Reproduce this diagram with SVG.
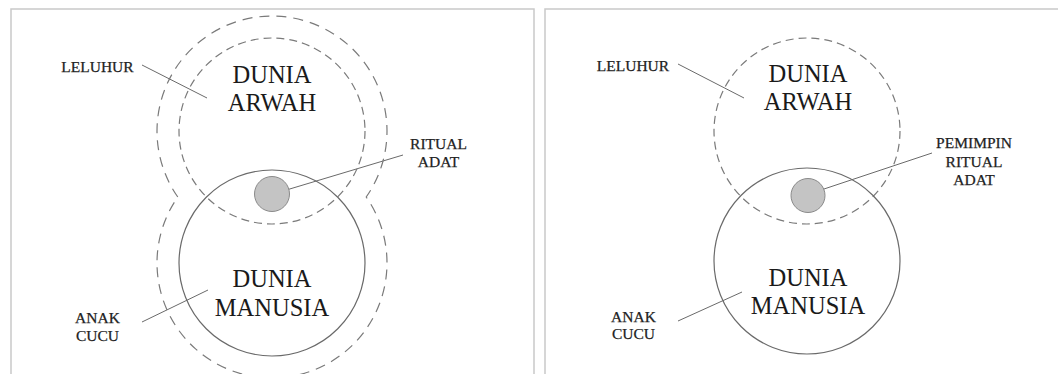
<svg xmlns="http://www.w3.org/2000/svg" width="1058" height="374" viewBox="0 0 1058 374">
<style>
.frame{fill:none;stroke:#c9c9c9;stroke-width:1.5}
.dash{fill:none;stroke:#7a7a7a;stroke-width:1.2;stroke-dasharray:8 5}
.odash{fill:none;stroke:#7a7a7a;stroke-width:1.2;stroke-dasharray:10 7}
.solid{fill:none;stroke:#6a6a6a;stroke-width:1.2}
.dot{fill:#c4c4c4;stroke:#8a8a8a;stroke-width:1}
.lead{fill:none;stroke:#6a6a6a;stroke-width:1}
.big{font-family:"Liberation Serif",serif;font-size:24.5px;fill:#1a1a1a;text-anchor:middle}
.small{font-family:"Liberation Serif",serif;font-size:15.5px;fill:#222;stroke:#222;stroke-width:0.25;text-anchor:middle}
</style>
<rect width="1058" height="374" fill="#ffffff"/>
<g id="frames">
<path class="frame" d="M11 374 V9 H534 V374"/>
<path class="frame" d="M545 374 V9 H1058"/>
</g>
<g id="connectors">
<line class="lead" x1="142" y1="65" x2="207" y2="98"/>
<line class="lead" x1="403" y1="155" x2="273" y2="194"/>
<line class="lead" x1="142" y1="322" x2="208" y2="290"/>
<line class="lead" x1="678" y1="64" x2="744" y2="98"/>
<line class="lead" x1="932" y1="153" x2="809" y2="194"/>
<line class="lead" x1="678" y1="321" x2="742" y2="292"/>
</g>
<g id="left-outer">
<path class="odash" d="M177.8 197 A115 115 0 1 1 366.2 197 A115 115 0 1 1 177.8 197 Z"/>
</g>
<g id="left-arwah">
<circle class="dash" cx="272" cy="131" r="93"/>
<text class="big" x="272" y="83">DUNIA</text>
<text class="big" x="272" y="111">ARWAH</text>
</g>
<g id="left-manusia">
<circle class="solid" cx="272" cy="263" r="93"/>
<text class="big" x="272" y="287">DUNIA</text>
<text class="big" x="272" y="316">MANUSIA</text>
</g>
<g id="left-ritual">
<circle class="dot" cx="272" cy="194" r="17.5"/>
</g>
<g id="left-labels">
<text class="small" x="97.5" y="72">LELUHUR</text>
<text class="small" x="438.5" y="149">RITUAL</text>
<text class="small" x="438.5" y="167">ADAT</text>
<text class="small" x="97.5" y="323">ANAK</text>
<text class="small" x="97.5" y="341">CUCU</text>
</g>
<g id="right-arwah">
<circle class="dash" cx="807" cy="131" r="93"/>
<text class="big" x="808" y="82">DUNIA</text>
<text class="big" x="808" y="110">ARWAH</text>
</g>
<g id="right-manusia">
<circle class="solid" cx="807" cy="261" r="93"/>
<text class="big" x="808" y="286">DUNIA</text>
<text class="big" x="808" y="314">MANUSIA</text>
</g>
<g id="right-pemimpin">
<circle class="dot" cx="808" cy="195.5" r="17"/>
</g>
<g id="right-labels">
<text class="small" x="633" y="71">LELUHUR</text>
<text class="small" x="974" y="148">PEMIMPIN</text>
<text class="small" x="974" y="167">RITUAL</text>
<text class="small" x="974" y="185">ADAT</text>
<text class="small" x="633.5" y="322">ANAK</text>
<text class="small" x="633.5" y="339">CUCU</text>
</g>
</svg>
